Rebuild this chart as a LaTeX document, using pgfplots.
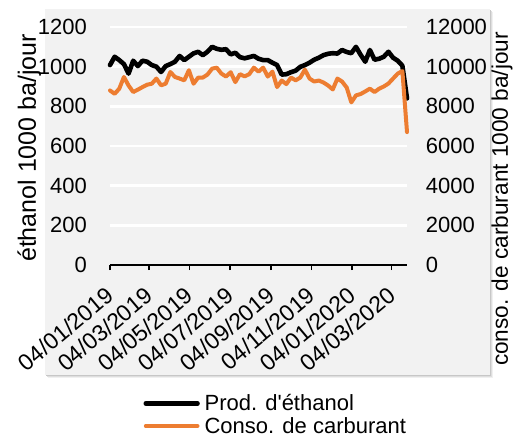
\documentclass[border=0pt]{standalone}
\usepackage{fontspec}
\setmainfont{Liberation Sans}[Ligatures=TeXOff]
\usepackage{pgfplots}
\pgfplotsset{compat=1.18}
\definecolor{org}{HTML}{ED7D31}
\definecolor{bg}{HTML}{F2F2F2}
\newcommand{\tickfont}{\fontsize{22bp}{26bp}\selectfont}

\pgfplotstableread{
d v
0 1008
7 1050
14 1033
21 1013
28 965
35 1030
42 1003
49 1030
56 1025
63 1008
70 1000
77 973
84 1003
91 1013
98 1025
105 1054
112 1033
119 1050
126 1067
133 1075
140 1058
147 1075
154 1100
161 1090
168 1085
175 1088
182 1062
189 1070
196 1048
203 1042
210 1048
217 1054
224 1040
231 1033
238 1033
245 1020
252 1008
259 960
266 962
273 972
280 980
287 999
294 1008
301 1020
308 1035
315 1045
322 1058
329 1065
336 1068
343 1066
350 1084
357 1074
364 1068
371 1100
378 1060
385 1025
392 1084
399 1035
406 1040
413 1050
420 1075
427 1045
434 1030
441 1005
448 840
}\ethanol

\pgfplotstableread{
d v
0 8800
7 8630
14 8890
21 9480
28 9050
35 8720
42 8840
49 8970
56 9090
63 9140
70 9400
77 9060
84 9140
91 9730
98 9480
105 9400
112 9310
119 9820
126 9140
133 9450
140 9450
147 9600
154 9900
161 9950
168 9650
175 9500
182 9720
189 9220
196 9620
203 9510
210 9620
217 9950
224 9750
231 9950
238 9500
245 9750
252 8970
259 9300
266 9120
273 9450
280 9310
287 9450
294 9850
301 9400
308 9250
315 9300
322 9200
329 9050
336 8850
343 9400
350 9250
357 8950
364 8200
371 8550
378 8620
385 8750
392 8890
399 8720
406 8890
413 9000
420 9150
427 9400
434 9650
441 9780
448 6700
}\carbu

\begin{document}
\begin{tikzpicture}[x=1bp,y=1bp]
\useasboundingbox (-110,-170) rectangle (404,265);
% panel with shadow
\fill[black!6]  (-62,-113) rectangle (383,252.7);
\fill[black!13] (-63,-112) rectangle (382,253.7);
\fill[black!22] (-64,-111) rectangle (381,254.7);
\fill[bg] (-65,-110) rectangle (380,255.7);

\begin{axis}[
  at={(0,0)}, anchor=south west,
  scale only axis, width=297bp, height=238bp,
  xmin=0, xmax=448, ymin=0, ymax=1200,
  enlargelimits=false, clip=false,
  axis x line*=bottom, axis y line*=left,
  y axis line style={draw=none},
  x axis line style={black, line width=1.5bp, -},
  xtick={0,59,120,181,243,304,365,425},
  xticklabels={04/01/2019,04/03/2019,04/05/2019,04/07/2019,04/09/2019,04/11/2019,04/01/2020,04/03/2020},
  xtick style={black, line width=1.3bp},
  tick align=outside, major tick length=5bp,
  ytick={0,200,...,1200},
  ytick style={draw=none},
  ymajorgrids, grid style={white, line width=2.5bp},
  /pgf/number format/assume math mode=true,
  /pgf/number format/1000 sep={},
  ticklabel style={font=\tickfont},
  yticklabel style={inner sep=0pt, anchor=east, xshift=-18bp},
  xticklabel style={yshift=-22bp, rotate=40, anchor=east, inner sep=0pt, font=\fontsize{23bp}{26bp}\selectfont},
  ylabel={éthanol 1000 ba/jour},
  ylabel style={at={(axis description cs:-0.272,0.492)}, anchor=center, font=\fontsize{25bp}{30bp}\selectfont},
  legend style={at={(axis description cs:0.1128,-0.5462)}, anchor=north west,
    draw=none, fill=none, inner sep=0pt, outer sep=0pt,
    font=\tickfont, row sep=1.5bp,
    nodes={inner sep=0pt, text height=16bp, text depth=5bp},
    /tikz/every odd column/.append style={column sep=4.8bp}},
  legend cell align=left,
  legend image code/.code={\draw[#1, line cap=round] (0bp,2bp) -- (51.7bp,2bp);},
]
\addplot[black, line width=4.6bp, line join=round, line cap=round] table[x=d,y=v] {\ethanol};
\addlegendentry{Prod. d'éthanol}
\addlegendimage{org, line width=4bp}
\addlegendentry{Conso. de carburant}
\end{axis}

\begin{axis}[
  at={(0,0)}, anchor=south west,
  scale only axis, width=297bp, height=238bp,
  xmin=0, xmax=448, ymin=0, ymax=12000,
  enlargelimits=false, clip=false,
  hide x axis,
  axis y line*=right,
  y axis line style={draw=none},
  ytick={0,2000,...,12000},
  scaled y ticks=false,
  ytick style={draw=none},
  /pgf/number format/assume math mode=true,
  /pgf/number format/1000 sep={},
  ticklabel style={font=\tickfont},
  yticklabel style={inner sep=0pt, anchor=west, xshift=18.6bp},
  ylabel={conso. de carburant 1000 ba/jour},
  ylabel style={at={(axis description cs:1.32,0.277)}, anchor=center, font=\fontsize{22.6bp}{26bp}\selectfont},
]
\addplot[org, line width=4bp, line join=round, line cap=round] table[x=d,y=v] {\carbu};
\end{axis}
\end{tikzpicture}
\end{document}
